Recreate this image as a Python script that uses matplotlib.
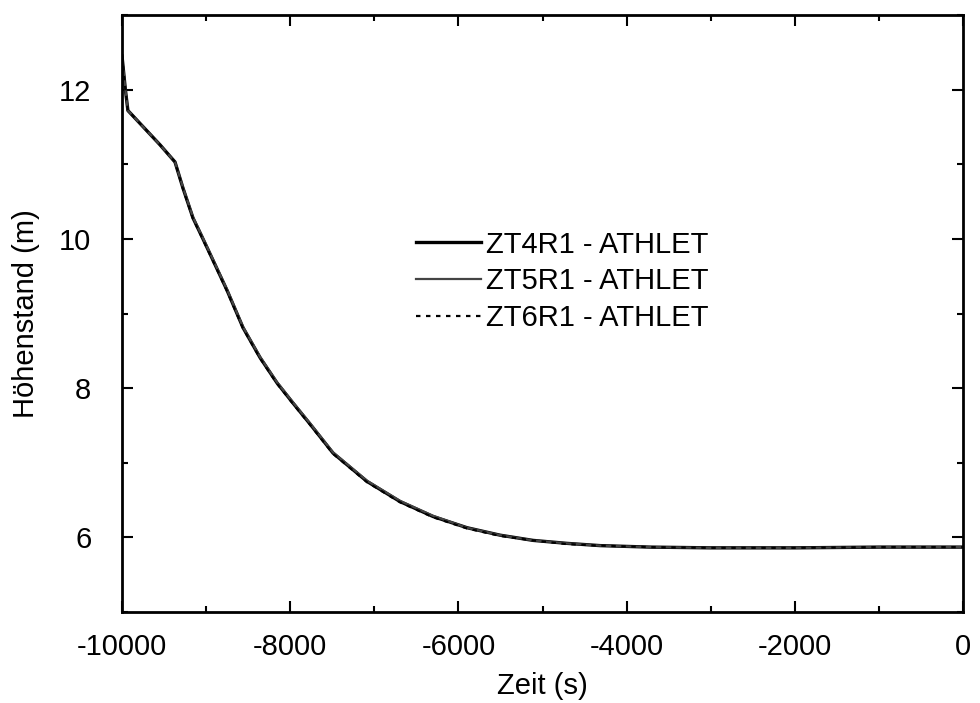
import matplotlib
matplotlib.use("Agg")
import matplotlib.pyplot as plt
from matplotlib.ticker import MultipleLocator

plt.rcParams['font.family'] = ['Liberation Sans', 'DejaVu Sans']
plt.rcParams['axes.unicode_minus'] = False

zeit = [-10000, -9960, -9930, -9548, -9370, -9275, -9156, -9050, -8954, -8751,
        -8561, -8359, -8157, -7967, -7765, -7491, -7087, -6694, -6302, -5898,
        -5505, -5113, -4709, -4316, -3722, -3000, -2000, -1000, 0]
zt4r1 = [12.45, 12.0, 11.72, 11.26, 11.03, 10.68, 10.28, 10.03, 9.80, 9.31,
         8.81, 8.41, 8.07, 7.80, 7.52, 7.13, 6.75, 6.48, 6.28, 6.13,
         6.03, 5.96, 5.92, 5.89, 5.87, 5.86, 5.86, 5.87, 5.87]
zt5r1 = [12.45, 12.0, 11.72, 11.26, 11.03, 10.69, 10.29, 10.04, 9.81, 9.32,
         8.82, 8.42, 8.08, 7.81, 7.53, 7.14, 6.76, 6.49, 6.29, 6.13,
         6.03, 5.96, 5.92, 5.89, 5.87, 5.86, 5.86, 5.87, 5.87]
zt6r1 = [12.45, 12.0, 11.72, 11.26, 11.03, 10.67, 10.27, 10.02, 9.79, 9.30,
         8.80, 8.40, 8.06, 7.79, 7.51, 7.12, 6.74, 6.47, 6.27, 6.12,
         6.02, 5.96, 5.91, 5.89, 5.87, 5.86, 5.86, 5.87, 5.87]
labels = ['ZT4R1 - ATHLET', 'ZT5R1 - ATHLET', 'ZT6R1 - ATHLET']

fig = plt.figure(figsize=(9.8, 7.03), dpi=100)
ax = fig.add_axes([0.1245, 0.1294, 0.8582, 0.8493])

ax.plot(zeit, zt4r1, color='black', lw=2.4, label=labels[0])
ax.plot(zeit, zt5r1, color='#444444', lw=1.6, label=labels[1])
ax.plot(zeit, zt6r1, color='black', lw=1.6, ls=(0, (2, 2.5)), label=labels[2])

ax.set_xlim(-10000, 0)
ax.set_ylim(5, 13)
ax.xaxis.set_major_locator(MultipleLocator(2000))
ax.xaxis.set_minor_locator(MultipleLocator(1000))
ax.yaxis.set_major_locator(MultipleLocator(2))
ax.yaxis.set_minor_locator(MultipleLocator(1))
ax.tick_params(which='both', direction='in', top=True, right=True, labelsize=21, width=1.5)
ax.tick_params(axis='x', which='major', length=8, pad=15)
ax.tick_params(axis='y', which='major', length=8, pad=22)
ax.tick_params(which='minor', length=4)
for s in ax.spines.values():
    s.set_linewidth(2)

ax.set_xlabel('Zeit (s)', fontsize=21, labelpad=8)
ax.set_ylabel('Höhenstand (m)', fontsize=21, labelpad=14)

ax.legend(loc='center', bbox_to_anchor=(0.524, 0.554), frameon=False, fontsize=21,
          handlelength=2.2, handletextpad=0.2, labelspacing=0.3)

fig.savefig('out.png', dpi=100)
